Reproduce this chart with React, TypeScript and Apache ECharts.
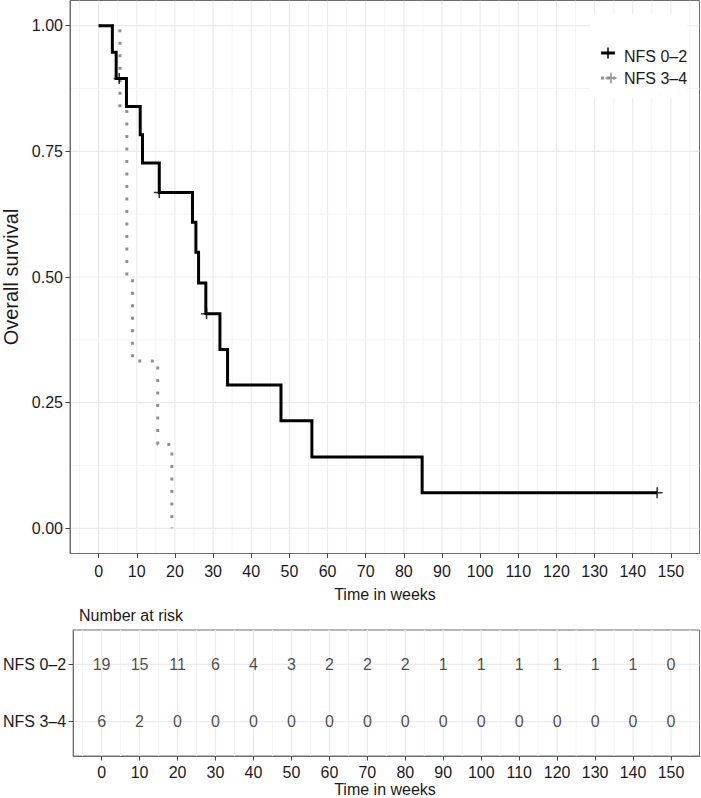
import React, { useEffect, useRef } from 'react';
import * as echarts from 'echarts';

const weekTicks = [0, 10, 20, 30, 40, 50, 60, 70, 80, 90, 100, 110, 120, 130, 140, 150];
const weekMinor = [-5, 5, 15, 25, 35, 45, 55, 65, 75, 85, 95, 105, 115, 125, 135, 145, 155];
const survivalTicks = [0, 0.25, 0.5, 0.75, 1];
const survivalMinor = [0.125, 0.375, 0.625, 0.875];
const groups = ['NFS 0–2', 'NFS 3–4'];
const groupRows = [1, 2];
const atRiskNFS02 = [19, 15, 11, 6, 4, 3, 2, 2, 2, 1, 1, 1, 1, 1, 1, 0];
const atRiskNFS34 = [6, 2, 0, 0, 0, 0, 0, 0, 0, 0, 0, 0, 0, 0, 0, 0];
const kmTimeNFS02 = [0, 3.6, 4.6, 7.3, 10.9, 11.5, 15.9, 24.6, 25.5, 26.2, 28.1, 31.8, 33.8, 47.8, 55.9, 84.8, 146.4];
const kmSurvNFS02 = [1, 0.947, 0.895, 0.839, 0.783, 0.727, 0.668, 0.609, 0.549, 0.488, 0.427, 0.356, 0.285, 0.214, 0.142, 0.071, 0.071];
const censorTimeNFS02 = [5.4, 15.9, 28.3, 146.4];
const censorSurvNFS02 = [0.895, 0.668, 0.427, 0.071];
const kmTimeNFS34 = [0, 5.6, 7.4, 8.9, 15.5, 19.2];
const kmSurvNFS34 = [1, 0.833, 0.5, 0.333, 0.167, 0];

const FONT = 'Liberation Sans, Arial, Helvetica, sans-serif';
const TEXT = '#1a1a1a';
const BORDER = '#6e6e6e';
const TICK = '#444444';
const GRID_MAJOR = '#EBEBEB';
const GRID_MINOR = '#F3F3F3';
const GREY = '#8f8f8f';
const CROSS = 'path://M4.3,0H5.7V4.3H10V5.7H5.7V10H4.3V5.7H0V4.3H4.3Z';

function vGrid(xIdx: number, yIdx: number, values: number[], major: boolean) {
  return {
    type: 'custom',
    xAxisIndex: xIdx,
    yAxisIndex: yIdx,
    silent: true,
    z: 0,
    clip: true,
    data: values.map((v) => [v, 0]),
    renderItem: (params: any, api: any) => {
      const cs = params.coordSys;
      const x = api.coord([api.value(0), 1])[0];
      return {
        type: 'line',
        shape: { x1: x, y1: cs.y, x2: x, y2: cs.y + cs.height },
        style: { stroke: major ? GRID_MAJOR : GRID_MINOR, lineWidth: major ? 1.2 : 1 },
      };
    },
  };
}

function hGrid(xIdx: number, yIdx: number, values: number[], major: boolean) {
  return {
    type: 'custom',
    xAxisIndex: xIdx,
    yAxisIndex: yIdx,
    silent: true,
    z: 0,
    clip: true,
    data: values.map((v) => [0, v]),
    renderItem: (params: any, api: any) => {
      const cs = params.coordSys;
      const y = api.coord([0, api.value(1)])[1];
      return {
        type: 'line',
        shape: { x1: cs.x, y1: y, x2: cs.x + cs.width, y2: y },
        style: { stroke: major ? GRID_MAJOR : GRID_MINOR, lineWidth: major ? 1.2 : 1 },
      };
    },
  };
}

export default function App() {
  const ref = useRef<HTMLDivElement>(null);
  useEffect(() => {
    if (!ref.current) return;
    const chart = echarts.init(ref.current, undefined, { renderer: 'svg' });

    const xAxisCommon = (gridIndex: number, margin: number) => ({
      gridIndex,
      type: 'value',
      min: -7.5,
      max: 157.5,
      axisLine: { show: true, onZero: false, lineStyle: { color: BORDER, width: 1 } },
      axisTick: { show: true, customValues: weekTicks, length: 4.5, lineStyle: { color: TICK, width: 1 } },
      axisLabel: { show: true, customValues: weekTicks, fontSize: 16, fontFamily: FONT, color: TEXT, margin },
      splitLine: { show: false },
      minorSplitLine: { show: false },
    });

    const tableData: any[] = [];
    weekTicks.forEach((w, i) => {
      tableData.push([w, groupRows[0], atRiskNFS02[i]]);
      tableData.push([w, groupRows[1], atRiskNFS34[i]]);
    });

    const option: any = {
      animation: false,
      backgroundColor: '#ffffff',
      grid: [
        { left: 70, top: 0.5, width: 629.5, height: 553, show: true, borderColor: BORDER, borderWidth: 1, backgroundColor: '#ffffff', containLabel: false },
        { left: 70, top: 630, width: 629.5, height: 126, show: true, borderColor: BORDER, borderWidth: 1, backgroundColor: '#ffffff', containLabel: false },
      ],
      xAxis: [xAxisCommon(0, 10), xAxisCommon(1, 8)],
      yAxis: [
        {
          gridIndex: 0,
          type: 'value',
          min: -0.05,
          max: 1.05,
          axisLine: { show: true, onZero: false, lineStyle: { color: BORDER, width: 1 } },
          axisTick: { show: true, customValues: survivalTicks, length: 4.5, lineStyle: { color: TICK, width: 1 } },
          axisLabel: {
            show: true,
            customValues: survivalTicks,
            fontSize: 16,
            fontFamily: FONT,
            color: TEXT,
            margin: 7,
            formatter: (v: number) => v.toFixed(2),
          },
          splitLine: { show: false },
        },
        {
          gridIndex: 1,
          type: 'value',
          inverse: true,
          min: 0.4,
          max: 2.6,
          axisLine: { show: true, onZero: false, lineStyle: { color: BORDER, width: 1 } },
          axisTick: { show: true, customValues: groupRows, length: 4.5, lineStyle: { color: TICK, width: 1 } },
          axisLabel: {
            show: true,
            customValues: groupRows,
            fontSize: 16,
            fontFamily: FONT,
            color: TEXT,
            margin: 7,
            formatter: (v: number) => groups[Math.round(v) - 1] ?? '',
          },
          splitLine: { show: false },
        },
      ],
      series: [
        vGrid(0, 0, weekMinor, false),
        vGrid(0, 0, weekTicks, true),
        hGrid(0, 0, survivalMinor, false),
        hGrid(0, 0, survivalTicks, true),
        vGrid(1, 1, weekMinor, false),
        vGrid(1, 1, weekTicks, true),
        hGrid(1, 1, groupRows, true),
        {
          name: groups[1],
          type: 'line',
          xAxisIndex: 0,
          yAxisIndex: 0,
          step: 'end',
          showSymbol: false,
          z: 3,
          data: kmTimeNFS34.map((t, i) => [t, kmSurvNFS34[i]]),
          lineStyle: { color: GREY, width: 3, type: [3, 9.5], cap: 'butt' },
        },
        {
          name: groups[0],
          type: 'line',
          xAxisIndex: 0,
          yAxisIndex: 0,
          step: 'end',
          showSymbol: false,
          z: 4,
          data: kmTimeNFS02.map((t, i) => [t, kmSurvNFS02[i]]),
          lineStyle: { color: '#000000', width: 3, cap: 'butt', join: 'miter' },
        },
        {
          type: 'scatter',
          xAxisIndex: 0,
          yAxisIndex: 0,
          z: 5,
          symbol: CROSS,
          symbolSize: 11,
          itemStyle: { color: '#000000' },
          data: censorTimeNFS02.map((t, i) => [t, censorSurvNFS02[i]]),
        },
        {
          type: 'scatter',
          xAxisIndex: 1,
          yAxisIndex: 1,
          z: 5,
          symbolSize: 1,
          itemStyle: { color: 'transparent' },
          label: {
            show: true,
            position: 'inside',
            formatter: (p: any) => String(p.value[2]),
            fontSize: 16,
            fontFamily: FONT,
            color: TEXT,
          },
          data: tableData,
        },
      ],
      graphic: [
        {
          type: 'text',
          x: 385,
          y: 594,
          style: { text: 'Time in weeks', fontSize: 16, fontFamily: FONT, fill: TEXT, align: 'center', verticalAlign: 'middle' },
        },
        {
          type: 'text',
          x: 385,
          y: 789.5,
          style: { text: 'Time in weeks', fontSize: 16, fontFamily: FONT, fill: TEXT, align: 'center', verticalAlign: 'middle' },
        },
        {
          type: 'text',
          x: 79,
          y: 615,
          style: { text: 'Number at risk', fontSize: 16, fontFamily: FONT, fill: TEXT, align: 'left', verticalAlign: 'middle' },
        },
        {
          type: 'text',
          x: 11,
          y: 277,
          rotation: Math.PI / 2,
          style: { text: 'Overall survival', fontSize: 20, fontFamily: FONT, fill: TEXT, align: 'center', verticalAlign: 'middle' },
        },
        {
          type: 'group',
          z: 20,
          children: [
            { type: 'rect', shape: { x: 590, y: 14, width: 97, height: 84 }, style: { fill: '#ffffff' }, z: 20 },
            { type: 'line', shape: { x1: 601, y1: 53, x2: 615, y2: 53 }, style: { stroke: '#000', lineWidth: 3 }, z: 21 },
            { type: 'line', shape: { x1: 608, y1: 47.5, x2: 608, y2: 58.5 }, style: { stroke: '#000', lineWidth: 1.5 }, z: 21 },
            { type: 'line', shape: { x1: 602.5, y1: 53, x2: 613.5, y2: 53 }, style: { stroke: '#000', lineWidth: 1.5 }, z: 21 },
            { type: 'line', shape: { x1: 601, y1: 78, x2: 615, y2: 78 }, style: { stroke: GREY, lineWidth: 3, lineDash: [3, 3] }, z: 21 },
            { type: 'line', shape: { x1: 611, y1: 72.5, x2: 611, y2: 83.5 }, style: { stroke: GREY, lineWidth: 1.5 }, z: 21 },
            { type: 'line', shape: { x1: 605.5, y1: 78, x2: 616.5, y2: 78 }, style: { stroke: GREY, lineWidth: 1.5 }, z: 21 },
            { type: 'text', x: 624, y: 56, style: { text: groups[0], fontSize: 16, fontFamily: FONT, fill: TEXT, align: 'left', verticalAlign: 'middle' }, z: 21 },
            { type: 'text', x: 624, y: 78, style: { text: groups[1], fontSize: 16, fontFamily: FONT, fill: TEXT, align: 'left', verticalAlign: 'middle' }, z: 21 },
          ],
        },
      ],
    };

    chart.setOption(option);
    return () => chart.dispose();
  }, []);

  return (
    <div
      ref={ref}
      style={{ position: 'fixed', left: 0, top: 0, width: 701, height: 798, background: '#ffffff' }}
    />
  );
}
